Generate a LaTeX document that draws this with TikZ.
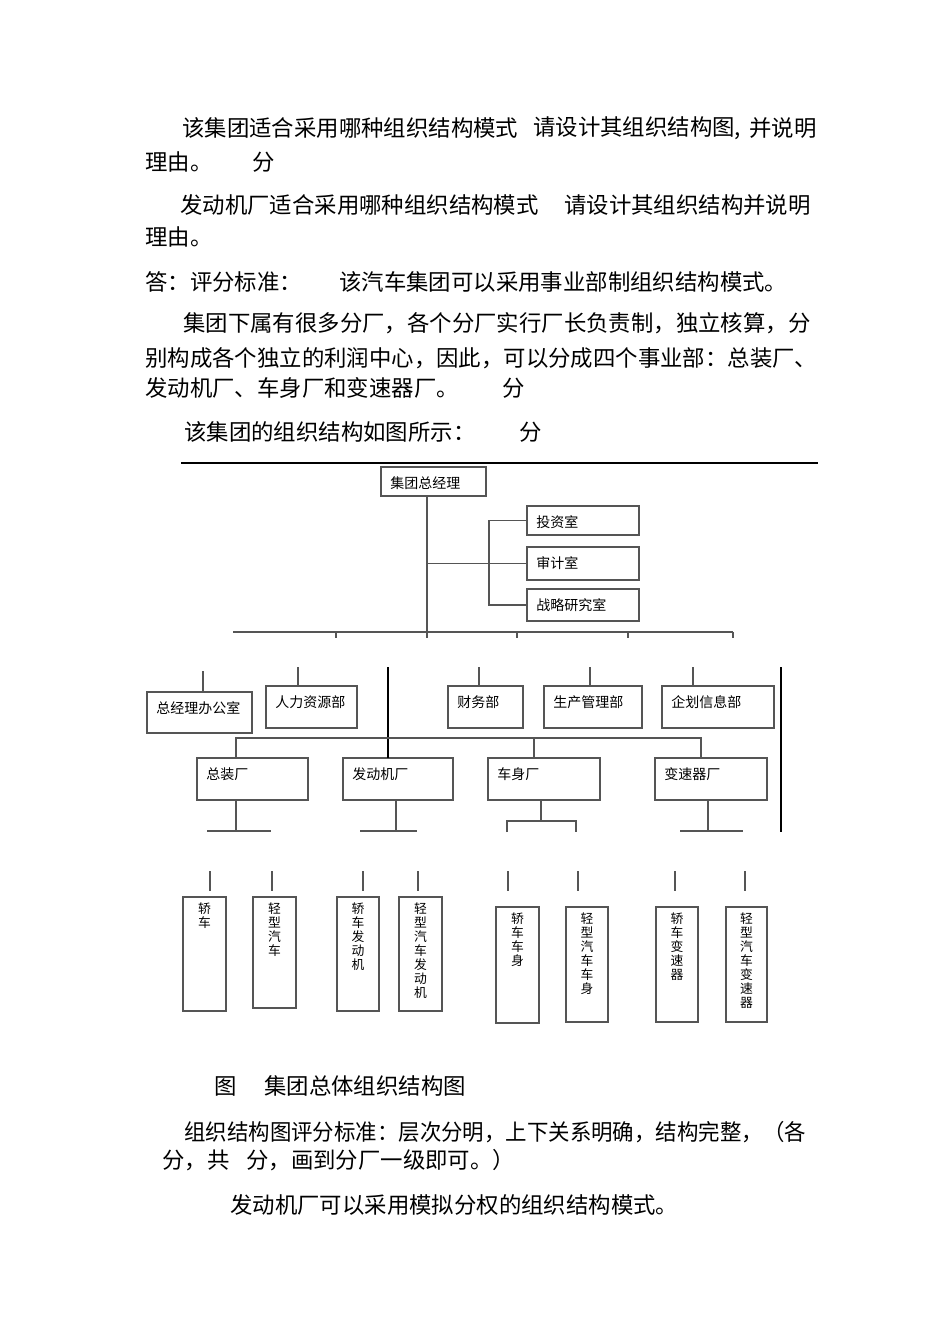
\documentclass[tikz,border=0pt]{standalone}
\usepackage{fontspec}
\newfontfamily\cjk{Noto Sans CJK SC}
\definecolor{lc}{RGB}{85,85,85}
\newcommand\bodyfont{\fontsize{16.8pt}{20pt}\selectfont\cjk}
\newcommand\boxfont{\fontsize{10.5pt}{12pt}\selectfont\cjk}
\newcommand\vfont{\fontsize{9.6pt}{10.5pt}\selectfont\cjk}
% org box: name, x1, y1, x2, y2, text
\newcommand\obox[6]{\node[box, minimum width={(#4-#2)*0.75pt}, minimum height={(#5-#3)*0.75pt},
  label={[lab]north west:#6}] (#1) at ({(#2+#4)/2},{(#3+#5)/2}) {};}
\newcommand\prodbox[6]{\node[box, minimum width={(#4-#2)*0.75pt}, minimum height={(#5-#3)*0.75pt},
  label={[vlab]north:{#6}}] (#1) at ({(#2+#4)/2},{(#3+#5)/2}) {};}
\begin{document}
\begin{tikzpicture}[x=0.75pt,y=-0.75pt,
  body/.style={anchor=west,inner sep=0pt,font=\bodyfont},
  box/.style={draw=lc,line width=1.1pt,inner sep=0pt,outer sep=0pt,rectangle},
  lab/.style={anchor=west,inner sep=0pt,xshift=6.75pt,yshift=-12pt,font=\boxfont},
  vlab/.style={anchor=north,inner sep=0pt,yshift=-3.75pt,font=\vfont,align=center},
  ln/.style={draw=lc,line width=1.1pt},
  bk/.style={draw=black,line width=0.9pt}]
\fill[white] (0,0) rectangle (950,1344);
\useasboundingbox (0,0) rectangle (950,1344);

% ---------- body text ----------
\node[body] (t1a) at (182,128) {该集团适合采用哪种组织结构模式};
\node[body] (t1b) at (533,128) {请设计其组织结构图,};
\node[body] (t1c) at (749,128) {并说明};
\node[body] (t2a) at (145,162) {理由。};
\node[body] (t2b) at (252,162) {分};
\node[body] (t3a) at (180,205) {发动机厂适合采用哪种组织结构模式};
\node[body] (t3b) at (564,205) {请设计其组织结构并说明};
\node[body] (t4) at (145,237) {理由。};
\node[body] (t5a) at (145,282) {答：评分标准：};
\node[body] (t5b) at (339,282) {该汽车集团可以采用事业部制组织结构模式。};
\node[body] (t6) at (183,323) {集团下属有很多分厂，各个分厂实行厂长负责制，独立核算，分};
\node[body] (t7) at (145,358) {别构成各个独立的利润中心，因此，可以分成四个事业部：总装厂、};
\node[body] (t8a) at (145,388) {发动机厂、车身厂和变速器厂。};
\node[body] (t8b) at (502,388) {分};
\node[body] (t9a) at (184,432) {该集团的组织结构如图所示：};
\node[body] (t9b) at (519,432) {分};
\node[body] (c1a) at (214,1086) {图};
\node[body] (c1b) at (264,1086) {集团总体组织结构图};
\node[body, transform shape, xscale=0.957] (c2) at (184,1132) {组织结构图评分标准：层次分明，上下关系明确，结构完整，（各};
\node[body] (c3a) at (162,1160) {分，共};
\node[body] (c3b) at (246,1160) {分，画到分厂一级即可。）};
\node[body] (c4) at (230,1205) {发动机厂可以采用模拟分权的组织结构模式。};

% top rule
\coordinate (ruleL) at (181,463);
\coordinate (ruleR) at (818,463);
\draw[black,line width=1.1pt] (ruleL) -- (ruleR);

% ---------- boxes ----------
\obox{gm}{381}{467}{486}{496}{集团总经理}
\obox{inv}{527}{506}{639}{535}{投资室}
\obox{aud}{527}{547}{639}{580}{审计室}
\obox{str}{527}{589}{639}{621}{战略研究室}
\obox{off}{147}{692}{252}{733}{总经理办公室}
\obox{hr}{266}{686}{357}{728}{人力资源部}
\obox{fin}{448}{686}{523}{728}{财务部}
\obox{prod}{544}{686}{642}{728}{生产管理部}
\obox{plan}{662}{686}{774}{728}{企划信息部}
\obox{f1}{197}{758}{308}{800}{总装厂}
\obox{f2}{343}{758}{453}{800}{发动机厂}
\obox{f3}{488}{758}{600}{800}{车身厂}
\obox{f4}{655}{758}{767}{800}{变速器厂}

\prodbox{p1}{183}{897}{226}{1011}{轿\\车}
\prodbox{p2}{253}{897}{296}{1008}{轻\\型\\汽\\车}
\prodbox{p3}{337}{897}{379}{1011}{轿\\车\\发\\动\\机}
\prodbox{p4}{399}{897}{442}{1011}{轻\\型\\汽\\车\\发\\动\\机}
\prodbox{p5}{496}{907}{539}{1023}{轿\\车\\车\\身}
\prodbox{p6}{566}{907}{608}{1022}{轻\\型\\汽\\车\\车\\身}
\prodbox{p7}{656}{907}{698}{1022}{轿\\车\\变\\速\\器}
\prodbox{p8}{726}{907}{767}{1022}{轻\\型\\汽\\车\\变\\速\\器}

% ---------- connectors ----------
\coordinate (barL) at (233,632);
\coordinate (barR) at (733,632);
\coordinate (trunk) at (427,632);
\draw[ln] (barL) -- (barR);
\draw[ln] (trunk |- gm.south) -- (trunk);
\draw[ln] (trunk |- aud.west) -- (aud.west);
\draw[ln] (inv.west) -- ++(-38,0) |- (str.west);
\foreach \x in {336,427,517,628,733} \draw[ln] (\x,632) -- ++(0,6);

% stubs over second row
\coordinate (soff) at (203,671);
\coordinate (shr) at (298,667);
\coordinate (sfin) at (479,667);
\coordinate (sprod) at (590,667);
\coordinate (splan) at (693,667);
\draw[ln] (soff) -- (soff |- off.north);
\draw[ln] (shr) -- (shr |- hr.north);
\draw[ln] (sfin) -- (sfin |- fin.north);
\draw[ln] (sprod) -- (sprod |- prod.north);
\draw[ln] (splan) -- (splan |- plan.north);

% long black lines
\coordinate (k1) at (388,667);
\draw[bk] (k1) -- (k1 |- f2.north);
\coordinate (k2t) at (781,667);
\coordinate (k2b) at (781,832);
\draw[bk] (k2t) -- (k2b);

% factory bar
\coordinate (fbL) at (236,738);
\coordinate (fbR) at (701,738);
\coordinate (fb3) at (534,738);
\draw[ln] (fbL |- f1.north) -- (fbL) -- (fbR) -- (fbR |- f4.north);
\draw[ln] (fb3) -- (fb3 |- f3.north);

% below factories
\coordinate (d1) at (236,831);
\draw[ln] (d1 |- f1.south) -- (d1);
\draw[ln] (207,831) -- (271,831);
\coordinate (d2) at (396,831);
\draw[ln] (d2 |- f2.south) -- (d2);
\draw[ln] (360,831) -- (417,831);
\coordinate (d3) at (541,821);
\draw[ln] (d3 |- f3.south) -- (d3);
\draw[ln] (507,832) -- (507,821) -- (576,821) -- (576,832);
\coordinate (d4) at (708,831);
\draw[ln] (d4 |- f4.south) -- (d4);
\draw[ln] (680,831) -- (743,831);

% stubs above products
\foreach \x in {210,272,363,418,508,578,675,745} \draw[ln] (\x,871) -- (\x,891);
\end{tikzpicture}
\end{document}
